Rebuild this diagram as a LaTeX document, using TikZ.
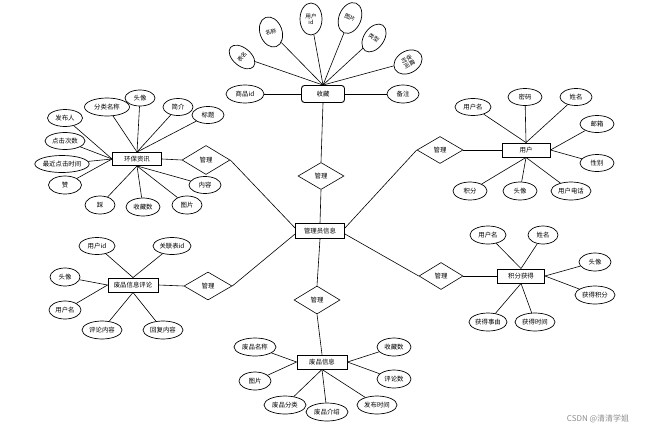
\documentclass[tikz,border=0pt]{standalone}
\usepackage{fontspec}
\newfontfamily\cjk{Noto Sans CJK SC}
\usetikzlibrary{shapes.geometric}
\begin{document}
\begin{tikzpicture}[x=1pt,y=-1pt,
 every node/.style={font=\cjk\fontsize{6.4}{7}\selectfont, inner sep=0pt, align=center},
 attr/.style={ellipse, draw, line width=0.7pt},
 rattr/.style={attr, font=\cjk\fontsize{5.6}{6}\selectfont},
 ent/.style={rectangle, draw, line width=0.9pt, minimum height=14pt},
 rel/.style={diamond, draw, line width=0.6pt, minimum width=46pt, minimum height=27pt},
 sz/.style 2 args={minimum width=#1pt, minimum height=#2pt},
 ln/.style={line width=0.6pt},
]
\useasboundingbox (0,0) rectangle (660,434);

% ---------- centre ----------
\node[ent, sz={49}{15}] (adm) at (320,231) {管理员信息};

% ---------- top: 收藏 ----------
\node[ent, sz={43}{17}, rounded corners=3pt] (sc) at (323,94) {收藏};
\node[attr, sz={38}{18}] (sc1) at (245,94) {商品id};
\node[attr, sz={32}{18}] (sc2) at (403,94) {备注};
\node[rattr, sz={18}{30}, rotate=50] (sc3) at (242,57) {表名};
\node[rattr, sz={22}{31}, rotate=20] (sc4) at (271,32) {名称};
\node[rattr, sz={22}{32}] (sc5) at (311,19) {用户\\id};
\node[rattr, sz={22}{32}, rotate=-22] (sc6) at (350,18) {图片};
\node[rattr, sz={20}{31}, rotate=-35] (sc7) at (374,38) {类型};
\node[rattr, sz={22}{30}, rotate=-60] (sc8) at (408,62) {收藏\\时间};
\draw[ln] (sc1) -- (sc.west);
\draw[ln] (sc2) -- (sc.east);
\foreach \n in {sc3,sc4,sc5,sc6,sc7,sc8} \draw[ln] (\n) -- (sc.north);
\node[rel] (r1) at (321,176) {管理};
\draw[ln] (sc.south) -- (r1.north);
\draw[ln] (r1.south) -- (adm.north);

% ---------- 环保资讯 ----------
\node[ent, sz={49}{13}] (env) at (137,159) {环保资讯};
\node[attr, sz={45}{18}] (e1) at (107,107) {分类名称};
\node[attr, sz={30}{16}] (e2) at (140,98) {头像};
\node[attr, sz={30}{17}] (e3) at (178,107) {简介};
\node[attr, sz={32}{17}] (e4) at (208,115) {标题};
\node[attr, sz={35}{17}] (e5) at (65,118) {发布人};
\node[attr, sz={40}{17}] (e6) at (65,141) {点击次数};
\node[attr, sz={50}{17}] (e7) at (62,164) {最近点击时间};
\node[attr, sz={33}{18}] (e8) at (65,185) {赞};
\node[attr, sz={30}{18}] (e9) at (100,205) {踩};
\node[attr, sz={34}{18}] (e10) at (143,207) {收藏数};
\node[attr, sz={30}{18}] (e11) at (187,205) {图片};
\node[attr, sz={32}{17}] (e12) at (205,185) {内容};
\foreach \n in {e1,e2,e3,e4} \draw[ln] (\n) -- (env.north);
\foreach \n in {e5,e6,e7,e8} \draw[ln] (\n) -- (env.west);
\foreach \n in {e9,e10,e11,e12} \draw[ln] (\n) -- (env.south);
\node[rel, sz={48}{29}] (r2) at (206,160) {管理};
\draw[ln] (env.east) -- (r2.west);
\draw[ln] (r2.east) -- ([yshift=3pt]adm.west);

% ---------- 用户 ----------
\node[ent, sz={48}{14}] (us) at (526,150) {用户};
\node[attr, sz={36}{17}] (u1) at (473,107) {用户名};
\node[attr, sz={34}{17}] (u2) at (525,97) {密码};
\node[attr, sz={32}{17}] (u3) at (576,97) {姓名};
\node[attr, sz={34}{17}] (u4) at (597,124) {邮箱};
\node[attr, sz={34}{17}] (u5) at (597,163) {性别};
\node[attr, sz={34}{18}] (u6) at (470,191) {积分};
\node[attr, sz={34}{18}] (u7) at (520,191) {头像};
\node[attr, sz={40}{18}] (u8) at (571,191) {用户电话};
\foreach \n in {u1,u2,u3} \draw[ln] (\n) -- (us.north);
\foreach \n in {u4,u5} \draw[ln] (\n) -- (us.east);
\foreach \n in {u6,u7,u8} \draw[ln] (\n) -- (us.south);
\node[rel] (r3) at (440,150) {管理};
\draw[ln] (r3.east) -- (us.west);
\draw[ln] ([yshift=3pt]adm.east) -- (r3.west);

% ---------- 废品信息评论 ----------
\node[ent, sz={50}{14}] (cm) at (133,285) {废品信息评论};
\node[attr, sz={36}{17}] (c1) at (97,246) {用户id};
\node[attr, sz={38}{17}] (c2) at (172,246) {关联表id};
\node[attr, sz={30}{18}] (c3) at (65,277) {头像};
\node[attr, sz={32}{18}] (c4) at (65,310) {用户名};
\node[attr, sz={40}{18}] (c5) at (102,330) {评论内容};
\node[attr, sz={40}{18}] (c6) at (163,330) {回复内容};
\foreach \n in {c1,c2} \draw[ln] (\n) -- (cm.north);
\foreach \n in {c3,c4} \draw[ln] (\n) -- (cm.west);
\foreach \n in {c5,c6} \draw[ln] (\n) -- (cm.south);
\node[rel, sz={48}{28}] (r5) at (208,286) {管理};
\draw[ln] (cm.east) -- (r5.west);
\draw[ln] (r5.east) -- ([yshift=-3pt]adm.west);

% ---------- 积分获得 ----------
\node[ent, sz={47}{14}] (jf) at (521,276) {积分获得};
\node[attr, sz={36}{18}] (j1) at (488,235) {用户名};
\node[attr, sz={30}{18}] (j2) at (543,235) {姓名};
\node[attr, sz={32}{18}] (j3) at (595,262) {头像};
\node[attr, sz={40}{18}] (j4) at (595,295) {获得积分};
\node[attr, sz={38}{18}] (j5) at (488,322) {获得事由};
\node[attr, sz={40}{18}] (j6) at (535,322) {获得时间};
\foreach \n in {j1,j2} \draw[ln] (\n) -- (jf.north);
\foreach \n in {j3,j4} \draw[ln] (\n) -- (jf.east);
\foreach \n in {j5,j6} \draw[ln] (\n) -- (jf.south);
\node[rel, sz={44}{27}] (r4) at (441,276) {管理};
\draw[ln] (r4.east) -- (jf.west);
\draw[ln] ([yshift=-3pt]adm.east) -- (r4.west);

% ---------- 废品信息 ----------
\node[ent, sz={50}{14}] (fp) at (322,362) {废品信息};
\node[attr, sz={42}{18}] (f1) at (255,347) {废品名称};
\node[attr, sz={32}{18}] (f2) at (255,381) {图片};
\node[attr, sz={42}{18}] (f3) at (285,405) {废品分类};
\node[attr, sz={42}{18}] (f4) at (327,412) {废品介绍};
\node[attr, sz={40}{18}] (f5) at (377,405) {发布时间};
\node[attr, sz={34}{18}] (f6) at (394,379) {评论数};
\node[attr, sz={34}{18}] (f7) at (394,347) {收藏数};
\foreach \n in {f1,f2} \draw[ln] (\n) -- (fp.west);
\foreach \n in {f3,f4,f5} \draw[ln] (\n) -- (fp.south);
\foreach \n in {f6,f7} \draw[ln] (\n) -- (fp.east);
\node[rel, sz={46}{28}] (r6) at (317,300) {管理};
\draw[ln] (adm.south) -- (r6.north);
\draw[ln] (r6.south) -- (fp.north);

% ---------- watermark ----------
\node[text=black!45, font=\cjk\fontsize{8}{9}\selectfont] (wm) at (598,419) {CSDN @清清学姐};
\end{tikzpicture}
\end{document}
